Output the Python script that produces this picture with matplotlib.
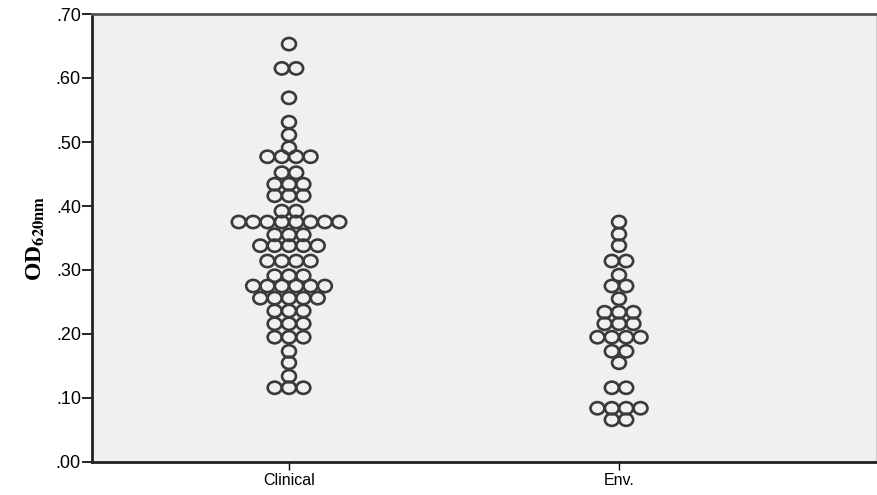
import numpy as np
import matplotlib.pyplot as plt
from matplotlib.path import Path
from matplotlib.transforms import Affine2D

plt.rcParams['mathtext.fontset'] = 'stix'

groups = ['Clinical', 'Env.']

# OD values per stacked row and how many circles sit in that row
clin_vals = [0.653, 0.615, 0.569, 0.531, 0.511, 0.491, 0.477, 0.452, 0.434, 0.416,
             0.392, 0.375, 0.355, 0.338, 0.314, 0.291, 0.275, 0.256, 0.236, 0.216,
             0.195, 0.173, 0.155, 0.134, 0.116]
clin_counts = [1, 2, 1, 1, 1, 1, 4, 2, 3, 3,
               2, 8, 3, 5, 4, 3, 6, 5, 3, 3,
               3, 1, 1, 1, 3]

env_vals = [0.375, 0.356, 0.338, 0.314, 0.292, 0.275, 0.255, 0.234, 0.216, 0.195,
            0.173, 0.155, 0.116, 0.084, 0.066]
env_counts = [1, 1, 1, 2, 1, 2, 1, 3, 3, 4,
              2, 1, 2, 4, 2]

yticks = np.arange(0, 0.71, 0.1)
ytick_labels = ['.00', '.10', '.20', '.30', '.40', '.50', '.60', '.70']

fig = plt.figure(figsize=(8.77, 4.95), dpi=100)
ax = fig.add_axes([92/877, 1-462/495, (876-92)/877, (462-14)/495])
ax.set_facecolor('#f0f0f0')

# slightly flattened circle, like the original
ell = Path.unit_circle().transformed(Affine2D().scale(1.0, 0.88))

step = 0.0435
for gi, (vals, counts) in enumerate([(clin_vals, clin_counts), (env_vals, env_counts)]):
    xs, ys = [], []
    for v, n in zip(vals, counts):
        for i in range(n):
            xs.append(gi + (i - (n - 1) / 2) * step)
            ys.append(v)
    ax.scatter(xs, ys, s=100, marker=ell, facecolors='none',
               edgecolors='#3a3a3a', linewidths=1.9, zorder=3)

ax.set_xlim(-(289-92)/330, 1 + (876-619)/330)
ax.set_ylim(0, 0.70)
ax.set_xticks([0, 1])
ax.set_xticklabels(groups, fontsize=11.5, fontfamily='Liberation Sans')
ax.set_yticks(yticks)
ax.set_yticklabels(ytick_labels, fontsize=13, fontfamily='Liberation Sans')
ax.tick_params(axis='y', length=7, width=1.2, pad=1)
ax.tick_params(axis='x', length=6, width=1.0, direction='out', pad=2)

for side in ['left', 'bottom']:
    ax.spines[side].set_linewidth(2)
    ax.spines[side].set_color('#222222')
ax.spines['top'].set_linewidth(2)
ax.spines['top'].set_color('#555555')
ax.spines['right'].set_linewidth(0.8)
ax.spines['right'].set_color('#cccccc')

ax.set_ylabel(r'OD$_{\mathbf{620nm}}$', fontsize=17, fontweight='bold',
              fontfamily='Liberation Serif', labelpad=6)

fig.savefig('out.png', dpi=100)
